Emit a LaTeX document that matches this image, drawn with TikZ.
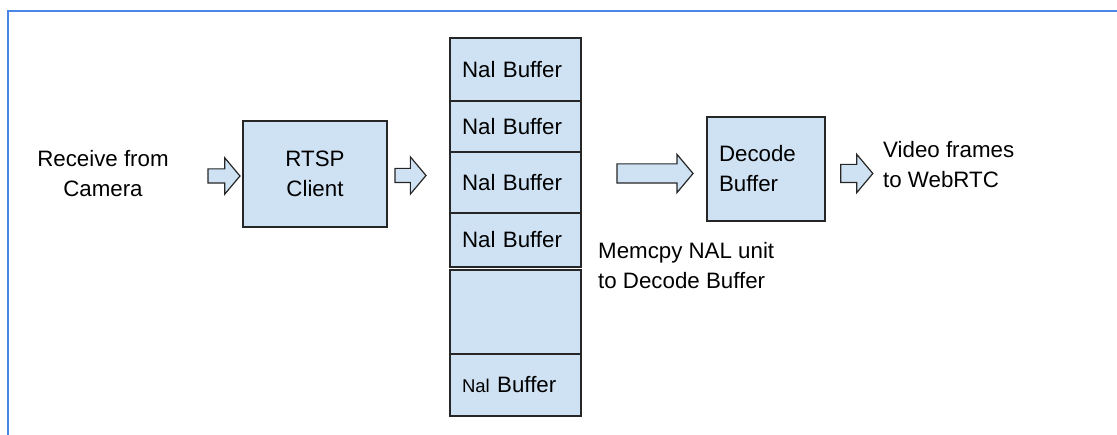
\documentclass[tikz,border=0pt]{standalone}
\usepackage{fontspec}
\setmainfont{Liberation Sans}
\usetikzlibrary{shapes.arrows,positioning}
\definecolor{boxfill}{HTML}{CFE2F3}
\definecolor{framecol}{HTML}{4A86E8}
\definecolor{edgecol}{HTML}{262626}
\tikzset{
  block/.style={draw=edgecol, fill=boxfill, line width=1.2pt, inner sep=0pt, outer sep=0pt},
  nalbuf/.style={block, minimum width=131pt, text width=107pt, align=left, text height=16pt, text depth=0pt},
  fatarrow/.style={single arrow, draw=edgecol, fill=boxfill, line width=1.2pt, inner xsep=0pt, single arrow head indent=0pt, single arrow tip angle=100},
  plain/.style={inner sep=0pt, align=center}
}
\begin{document}
\begin{tikzpicture}[x=1pt, y=-1pt, font=\fontsize{22.3}{30}\selectfont]
  \useasboundingbox (0,0) rectangle (1117,435);
  \draw[framecol, line width=2pt] (8,435) -- (8,11) -- (1117,11);

  % input side
  \node[plain] (camera) at (103,174) {Receive from\\Camera};
  \node[block, minimum width=144pt, minimum height=106pt, align=center] (rtsp) at (315,174) {RTSP\\Client};

  % stack of nal buffers
  \node[nalbuf, minimum height=63pt, anchor=north west] (nal1) at (450,38) {Nal Buffer};
  \node[nalbuf, minimum height=51pt, below=0pt of nal1] (nal2) {Nal Buffer};
  \node[nalbuf, minimum height=61pt, below=0pt of nal2] (nal3) {Nal Buffer};
  \node[nalbuf, minimum height=54pt, below=0pt of nal3] (nal4) {Nal Buffer};
  \node[nalbuf, minimum height=84pt, below=3pt of nal4] (nal5) {};
  \node[nalbuf, minimum height=62pt, below=0pt of nal5] (nal6) {{\fontsize{18.5}{20}\selectfont Nal} Buffer};

  % output side
  \node[plain, anchor=north west, align=left] (memcpy) at (598,242) {Memcpy NAL unit\\to Decode Buffer};
  \node[block, minimum width=118pt, minimum height=104pt, text width=94pt, align=left] (decode) at (766,169) {Decode\\Buffer};
  \node[plain, anchor=west, align=left] (video) at (883,165) {Video frames\\to WebRTC};

  % block arrows
  \node[fatarrow, minimum height=32pt, inner ysep=6.5pt, single arrow head extend=11pt] (a1) at (221,176) {};
  \node[fatarrow, minimum height=31pt, inner ysep=6.5pt, single arrow head extend=11.5pt] (a2) at (407.5,175.5) {};
  \node[fatarrow, minimum height=76pt, inner ysep=9pt, single arrow head extend=9.5pt] (a3) at (651,173.5) {};
  \node[fatarrow, minimum height=32pt, inner ysep=8.5pt, single arrow head extend=10pt] (a4) at (853,173.5) {};
\end{tikzpicture}
\end{document}
